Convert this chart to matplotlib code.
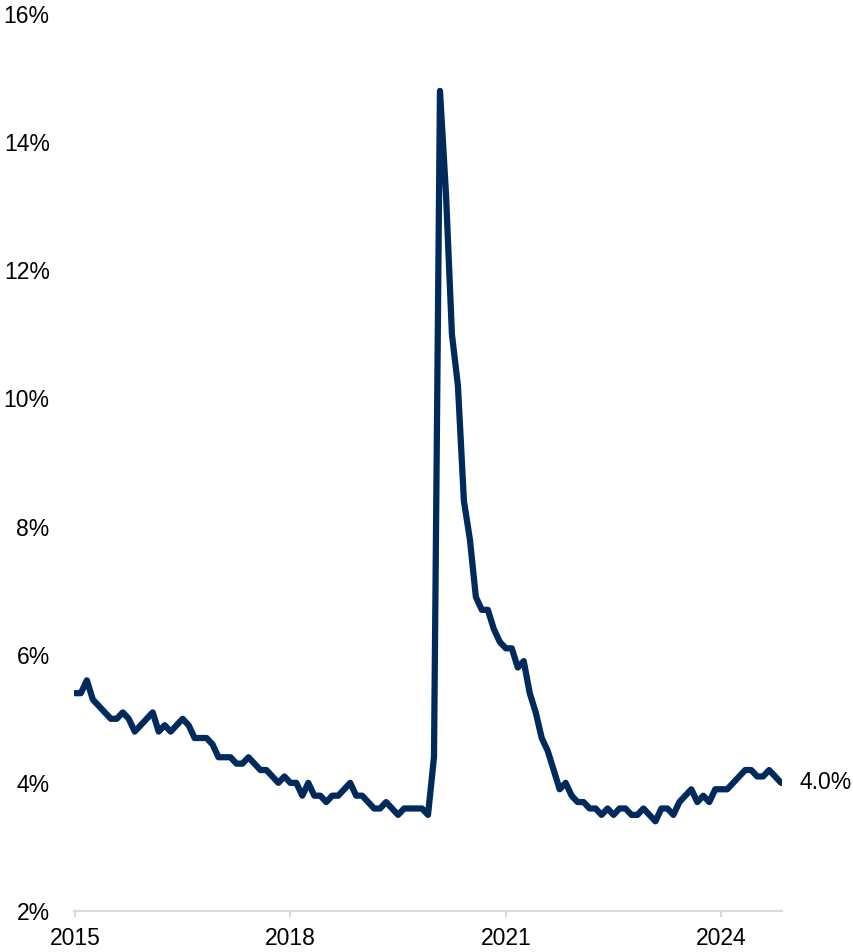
import matplotlib
matplotlib.use("Agg")
import matplotlib.pyplot as plt
import pandas as pd

plt.rcParams['font.family'] = ['Liberation Sans', 'DejaVu Sans']

# Monthly unemployment rate (%), Mar 2015 - Jan 2025
start = "2015-03-01"
rate = [
    5.4, 5.4, 5.6, 5.3, 5.2, 5.1, 5.0, 5.0, 5.1, 5.0,            # 2015 Mar-Dec
    4.8, 4.9, 5.0, 5.1, 4.8, 4.9, 4.8, 4.9, 5.0, 4.9, 4.7, 4.7,  # 2016
    4.7, 4.6, 4.4, 4.4, 4.4, 4.3, 4.3, 4.4, 4.3, 4.2, 4.2, 4.1,  # 2017
    4.0, 4.1, 4.0, 4.0, 3.8, 4.0, 3.8, 3.8, 3.7, 3.8, 3.8, 3.9,  # 2018
    4.0, 3.8, 3.8, 3.7, 3.6, 3.6, 3.7, 3.6, 3.5, 3.6, 3.6, 3.6,  # 2019
    3.6, 3.5, 4.4, 14.8, 13.2, 11.0, 10.2, 8.4, 7.8, 6.9, 6.7, 6.7,  # 2020
    6.4, 6.2, 6.1, 6.1, 5.8, 5.9, 5.4, 5.1, 4.7, 4.5, 4.2, 3.9,  # 2021
    4.0, 3.8, 3.7, 3.7, 3.6, 3.6, 3.5, 3.6, 3.5, 3.6, 3.6, 3.5,  # 2022
    3.5, 3.6, 3.5, 3.4, 3.6, 3.6, 3.5, 3.7, 3.8, 3.9, 3.7, 3.8,  # 2023
    3.7, 3.9, 3.9, 3.9, 4.0, 4.1, 4.2, 4.2, 4.1, 4.1, 4.2, 4.1,  # 2024
    4.0,                                                         # 2025 Jan
]
dates = pd.date_range(start, periods=len(rate), freq="MS")
yticks = [2, 4, 6, 8, 10, 12, 14, 16]
tick_every = 36  # months between x tick labels

navy = "#002a5c"
grey = "#d9d9d9"
fs = 16.5

fig = plt.figure(figsize=(8.54, 9.52), dpi=100)
ax = fig.add_axes([74/854, 1-911/952, (782-74)/854, (911-14)/952])

x = list(range(len(rate)))
ax.plot(x, rate, color=navy, lw=4.5, solid_joinstyle="round", solid_capstyle="round")

ax.set_ylim(2, 16)
ax.set_yticks(yticks)
ax.set_yticklabels([f"{v}%" for v in yticks])
ax.set_xlim(-0.15, len(rate) - 1 + 0.15)
xt = list(range(0, len(rate), tick_every))
ax.set_xticks(xt)
ax.set_xticklabels([str(dates[i].year) for i in xt])

for s in ["top", "right", "left"]:
    ax.spines[s].set_visible(False)
ax.spines["bottom"].set_color(grey)
ax.spines["bottom"].set_linewidth(1.5)
ax.spines["bottom"].set_zorder(0)

ax.tick_params(axis="y", length=0, pad=17.5, labelsize=fs, labelcolor="black")
ax.tick_params(axis="x", length=4.5, width=1.5, color=grey, pad=7, labelsize=fs,
               labelcolor="black")

ax.annotate(f"{rate[-1]:.1f}%", xy=(x[-1], rate[-1]), xytext=(13, 0),
            textcoords="offset points", ha="left", va="center", fontsize=fs,
            color="black")

fig.savefig("out.png", dpi=100)
